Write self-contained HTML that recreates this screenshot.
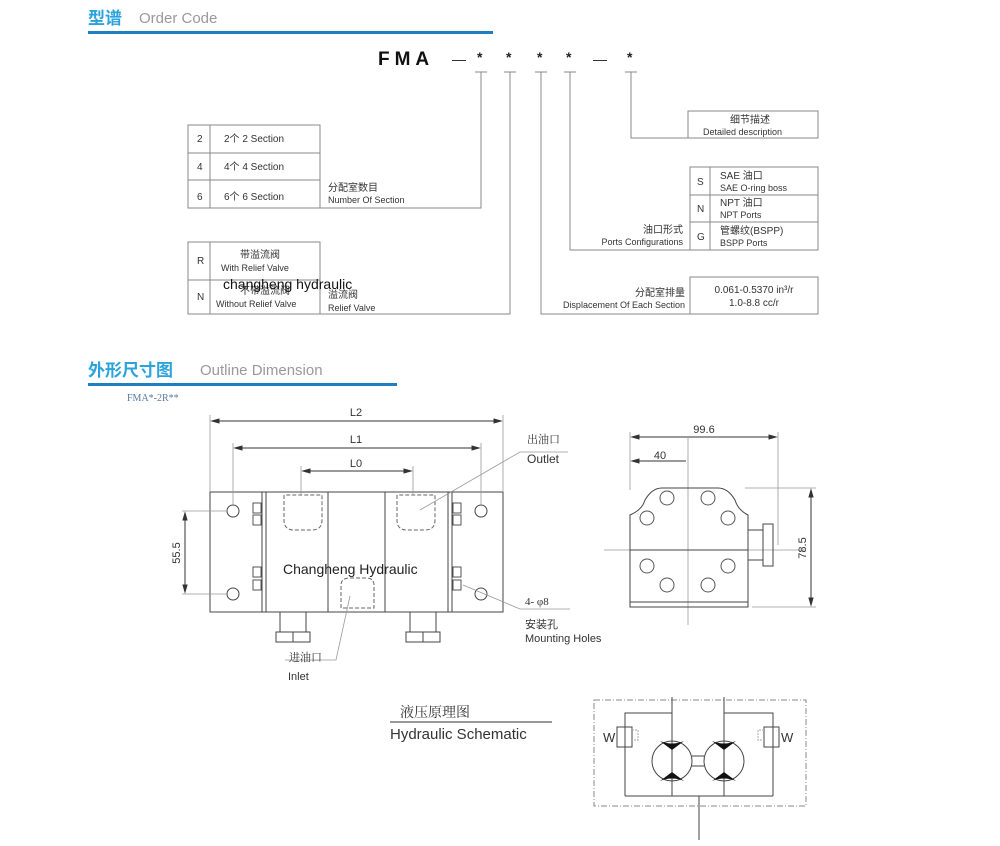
<!DOCTYPE html>
<html><head><meta charset="utf-8"><style>
body{margin:0;background:#fff}
svg{display:block}
.t{font-family:"Liberation Sans","Noto Sans CJK SC",sans-serif;fill:#333}
</style></head><body>
<svg width="1000" height="846" viewBox="0 0 1000 846" xmlns="http://www.w3.org/2000/svg">
<g class="t">
<!-- Header 1 -->
<text x="88" y="24" font-size="17" font-weight="bold" fill="#2aa3dc" style="fill:#2aa3dc">型谱</text>
<text x="139" y="23" font-size="15" style="fill:#999">Order Code</text>
<rect x="88" y="31" width="405" height="3" fill="#1d7fc0"/>
<text x="378" y="65" font-size="19" font-weight="bold" letter-spacing="5" style="fill:#111">FMA</text>
<g font-size="14" style="fill:#222">
<text x="452" y="64">—</text><text x="477" y="62" font-weight="bold">*</text><text x="506" y="62" font-weight="bold">*</text><text x="537" y="62" font-weight="bold">*</text><text x="566" y="62" font-weight="bold">*</text><text x="593" y="64">—</text><text x="627" y="62" font-weight="bold">*</text>
</g>
</g>
<g stroke="#888" stroke-width="1" fill="none">
<path d="M475 72h12M504 72h12M535 72h12M564 72h12M625 72h12"/>
<path d="M481 72V208H188V125H320V208M188 153H320M188 180H320M210 125V208"/>
<path d="M510 72V314H188V242H320V314M188 280H320M210 242V314"/>
<path d="M541 72V314H690V277H818V314H690"/>
<path d="M570 72V250H690V167H818V250H690M690 195H818M690 222H818M710 167V250"/>
<path d="M631 72V138H818V111H688V138"/>
</g>
<g class="t" font-size="10">
<text x="197" y="142">2</text><text x="224" y="142">2个  2 Section</text>
<text x="197" y="170">4</text><text x="224" y="170">4个  4 Section</text>
<text x="197" y="200">6</text><text x="224" y="200">6个  6 Section</text>
<text x="328" y="191">分配室数目</text><text x="328" y="203" font-size="9">Number Of Section</text>
<text x="197" y="264">R</text><text x="240" y="258">带溢流阀</text><text x="221" y="271" font-size="9">With Relief  Valve</text>
<text x="197" y="300">N</text><text x="240" y="294">不带溢流阀</text><text x="216" y="307" font-size="9">Without Relief Valve</text>
<text x="328" y="298">溢流阀</text><text x="328" y="311" font-size="9">Relief   Valve</text>
<text x="223" y="289" font-size="14" style="fill:#111">changheng hydraulic</text>
<text x="730" y="123">细节描述</text><text x="703" y="135" font-size="9">Detailed   description</text>
<text x="697" y="185">S</text><text x="720" y="179">SAE  油口</text><text x="720" y="191" font-size="9">SAE  O-ring boss</text>
<text x="697" y="212">N</text><text x="720" y="206">NPT 油口</text><text x="720" y="218" font-size="9">NPT  Ports</text>
<text x="697" y="240">G</text><text x="720" y="234">管螺纹(BSPP)</text><text x="720" y="246" font-size="9">BSPP  Ports</text>
<text x="683" y="233" text-anchor="end">油口形式</text><text x="683" y="245" text-anchor="end" font-size="9">Ports Configurations</text>
<text x="685" y="296" text-anchor="end">分配室排量</text><text x="685" y="308" text-anchor="end" font-size="9">Displacement Of Each Section</text>
<text x="754" y="293" text-anchor="middle">0.061-0.5370 in³/r</text><text x="754" y="306" text-anchor="middle">1.0-8.8 cc/r</text>
</g>
<!-- Header 2 -->
<g class="t">
<text x="88" y="376" font-size="17" font-weight="bold" style="fill:#2aa3dc">外形尺寸图</text>
<text x="200" y="375" font-size="15" style="fill:#999">Outline Dimension</text>
<rect x="88" y="383" width="309" height="3" fill="#1d7fc0"/>
<text x="127" y="401" font-size="10" font-family="Liberation Serif,serif" style="fill:#5a7aa0">FMA*-2R**</text>
</g>
<!-- Front view -->
<g stroke="#444" stroke-width="1" fill="none">
<rect x="210" y="492" width="293" height="120"/>
<path d="M262 492V612M266 492V612M328 492V612M385 492V612M448 492V612M452 492V612"/>
<circle cx="233" cy="511" r="6"/><circle cx="233" cy="594" r="6"/><circle cx="481" cy="511" r="6"/><circle cx="481" cy="594" r="6"/>
<g stroke="#555">
<rect x="253" y="503" width="8" height="10"/><rect x="253" y="515" width="8" height="10"/><rect x="253" y="567" width="8" height="10"/><rect x="253" y="580" width="8" height="10"/>
<rect x="453" y="503" width="8" height="10"/><rect x="453" y="515" width="8" height="10"/><rect x="453" y="567" width="8" height="10"/><rect x="453" y="580" width="8" height="10"/>
</g>
<g stroke-dasharray="4 2" stroke="#666">
<path d="M284 495V520Q284 530 294 530H312Q322 530 322 520V495H284"/>
<path d="M397 495V520Q397 530 407 530H425Q435 530 435 520V495H397"/>
<path d="M341 608V585Q341 578 350 578H366Q374 578 374 585V608H341"/>
</g>
<path d="M280 612V632M306 612V632M276 632h34v10h-34zM293 632v10"/>
<path d="M410 612V632M436 612V632M406 632h34v10h-34zM423 632v10"/>
</g>
<g stroke="#999" stroke-width="0.8" fill="none">
<path d="M210 415V492M503 415V492M233 443V505M481 443V505M301 466V495M413 466V495"/>
<path d="M182 511H227M182 594H227M420 510L520 452H568M463 585L520 609H570M350 596L336 660H285"/>
<path d="M688 438V625M778 432V545M630 432V490M745 488H816M752 607H816M604 550H805"/>
</g>
<g stroke="#333" stroke-width="1" fill="#333">
<path d="M212 421H501" fill="none"/><path d="M212 421l7-2v4zM501 421l-7-2v4z"/>
<path d="M235 448H479" fill="none"/><path d="M235 448l7-2v4zM479 448l-7-2v4z"/>
<path d="M303 471H411" fill="none"/><path d="M303 471l7-2v4zM411 471l-7-2v4z"/>
<path d="M185 513V592" fill="none"/><path d="M185 513l-2 7h4zM185 592l-2-7h4z"/>
<path d="M632 437H776" fill="none"/><path d="M632 437l7-2v4zM776 437l-7-2v4z"/>
<path d="M632 461H686" fill="none"/><path d="M632 461l7-2v4z"/>
<path d="M811 490V605" fill="none"/><path d="M811 490l-2 7h4zM811 605l-2-7h4z"/>
</g>
<g class="t" font-size="11">
<text x="356" y="416" text-anchor="middle">L2</text>
<text x="356" y="443" text-anchor="middle">L1</text>
<text x="356" y="467" text-anchor="middle">L0</text>
<text x="180" y="553" transform="rotate(-90 180 553)" text-anchor="middle">55.5</text>
<text x="283" y="574" font-size="14" style="fill:#222">Changheng Hydraulic</text>
<text x="527" y="443" font-family="Liberation Serif,'Noto Serif CJK SC',serif">出油口</text>
<text x="527" y="463" font-size="12">Outlet</text>
<text x="525" y="605" font-family="Liberation Serif,serif">4- φ8</text>
<text x="525" y="628">安装孔</text>
<text x="525" y="642">Mounting Holes</text>
<text x="289" y="661" font-family="Liberation Serif,'Noto Serif CJK SC',serif">进油口</text>
<text x="288" y="680">Inlet</text>
<text x="704" y="433" text-anchor="middle">99.6</text>
<text x="660" y="459" text-anchor="middle">40</text>
<text x="806" y="548" transform="rotate(-90 806 548)" text-anchor="middle">78.5</text>
</g>
<!-- side view -->
<g stroke="#444" fill="none" stroke-width="1">
<path d="M630 607V515Q642 510 645 500Q652 488 662 488H718Q728 488 735 500Q738 510 748 515V607Z"/>
<path d="M630 550H748M630 602H748"/>
<path d="M748 530h15v30h-15M763 524h10v42h-10z"/>
<g stroke="#555">
<circle cx="667" cy="498" r="7"/><circle cx="708" cy="498" r="7"/><circle cx="647" cy="518" r="7"/><circle cx="728" cy="518" r="7"/>
<circle cx="647" cy="566" r="7"/><circle cx="728" cy="566" r="7"/><circle cx="667" cy="585" r="7"/><circle cx="708" cy="585" r="7"/>
</g>
</g>
<!-- schematic -->
<g class="t">
<text x="400" y="717" font-size="14" font-family="Liberation Serif,'Noto Serif CJK SC',serif">液压原理图</text>
<text x="390" y="739" font-size="15">Hydraulic Schematic</text>
</g>
<path d="M390 722H552" stroke="#333"/>
<g stroke="#444" fill="none" stroke-width="1">
<rect x="594" y="700" width="212" height="106" stroke-dasharray="6 2 1 2" stroke="#888"/>
<path d="M672 697V796M724 697V796M625 796H773M699 796V840"/>
<path d="M672 713H625V796M724 713H773V796"/>
<circle cx="672" cy="761" r="20"/><circle cx="724" cy="761" r="20"/>
<path d="M692 756h12M692 766h12"/>
<rect x="617" y="727" width="15" height="20"/><rect x="764" y="727" width="15" height="20"/>
<path d="M632 730h6v10h-6M764 730h-6v10h6" stroke="#aaa" stroke-dasharray="2 1"/>
</g>
<g fill="#111">
<path d="M660 741Q672 746 684 741L672 750Z"/><path d="M660 781Q672 776 684 781L672 772Z"/>
<path d="M712 741Q724 746 736 741L724 750Z"/><path d="M712 781Q724 776 736 781L724 772Z"/>
</g>
<g class="t" font-size="13" font-family="Liberation Serif,serif"><text x="603" y="742">W</text><text x="781" y="742">W</text></g>
</svg>
</body></html>
